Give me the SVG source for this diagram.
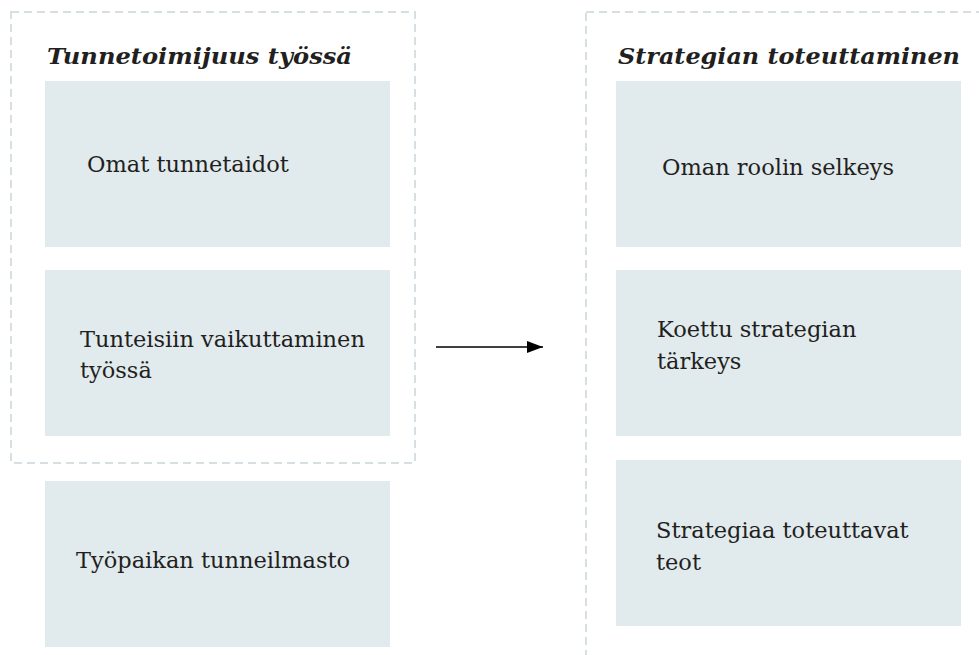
<svg xmlns="http://www.w3.org/2000/svg" width="979" height="655" viewBox="0 0 979 655">
<style>
.grp{fill:none;stroke:#d6e0e3;stroke-width:2;stroke-dasharray:8 5}
.box{fill:#e1eaed}
.t{font-family:"DejaVu Serif","Liberation Serif",serif;font-size:22.5px;fill:#231f20}
.h{font-family:"DejaVu Serif","Liberation Serif",serif;font-size:22.5px;font-weight:bold;font-style:italic;fill:#231f20}
</style>
<defs>
<marker id="ah" markerWidth="16" markerHeight="12" refX="16" refY="6" orient="auto" markerUnits="userSpaceOnUse">
<path d="M0,0 L16,6 L0,12 Z" fill="#000"/>
</marker>
</defs>
<g id="group-left">
<rect class="grp" x="11" y="12" width="404" height="451"/>
<text class="h" x="47" y="64" textLength="305" lengthAdjust="spacingAndGlyphs">Tunnetoimijuus työssä</text>
</g>
<g id="group-right">
<rect class="grp" x="586" y="12" width="420" height="670"/>
<text class="h" x="618" y="64" textLength="342" lengthAdjust="spacingAndGlyphs">Strategian toteuttaminen</text>
</g>
<g id="n1"><rect class="box" x="45" y="81" width="345" height="166"/><text class="t" x="87" y="172">Omat tunnetaidot</text></g>
<g id="n2"><rect class="box" x="45" y="270" width="345" height="166"/><text class="t" x="80" y="347">Tunteisiin vaikuttaminen</text><text class="t" x="80" y="378">työssä</text></g>
<g id="n3"><rect class="box" x="45" y="481" width="345" height="166"/><text class="t" x="76" y="568">Työpaikan tunneilmasto</text></g>
<g id="n4"><rect class="box" x="616" y="81" width="345" height="166"/><text class="t" x="662" y="175">Oman roolin selkeys</text></g>
<g id="n5"><rect class="box" x="616" y="270" width="345" height="166"/><text class="t" x="657" y="337">Koettu strategian</text><text class="t" x="657" y="369">tärkeys</text></g>
<g id="n6"><rect class="box" x="616" y="460" width="345" height="166"/><text class="t" x="656" y="538">Strategiaa toteuttavat</text><text class="t" x="656" y="570">teot</text></g>
<g id="connectors">
<line x1="436" y1="347" x2="543" y2="347" stroke="#000" stroke-width="1.5" marker-end="url(#ah)"/>
</g>
</svg>
